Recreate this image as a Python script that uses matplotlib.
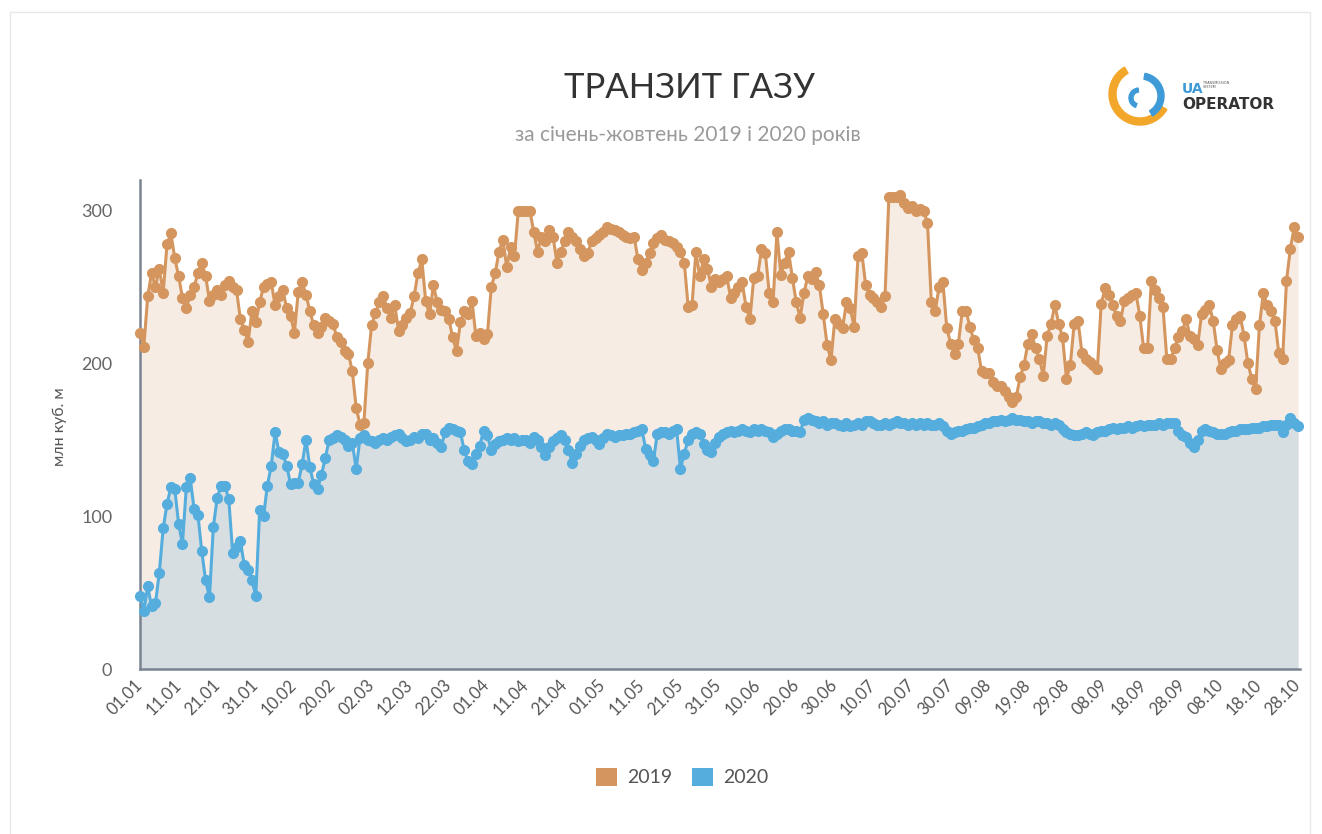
import matplotlib
matplotlib.use("Agg")
import matplotlib.pyplot as plt
import numpy as np
from matplotlib.patches import Wedge, Rectangle, Patch

plt.rcParams["font.family"] = ["Lato", "DejaVu Sans"]

# tick labels every 10 days, 01.01 .. 28.10
tick_labels = [
    "01.01", "11.01", "21.01", "31.01", "10.02", "20.02", "02.03", "12.03",
    "22.03", "01.04", "11.04", "21.04", "01.05", "11.05", "21.05", "31.05",
    "10.06", "20.06", "30.06", "10.07", "20.07", "30.07", "09.08", "19.08",
    "29.08", "08.09", "18.09", "28.09", "08.10", "18.10", "28.10",
]

# daily transit, mln m3
y2019 = [
    220, 211, 244, 259, 250, 262, 246, 278, 285, 269,
    257, 243, 236, 245, 250, 259, 266, 257, 241, 245,
    248, 245, 251, 254, 250, 248, 229, 222, 214, 234,
    227, 240, 250, 252, 253, 238, 244, 248, 236, 231,
    220, 247, 253, 245, 234, 225, 220, 224, 230, 228,
    226, 217, 214, 208, 206, 195, 171, 160, 161, 200,
    225, 233, 240, 244, 236, 230, 238, 221, 225, 230,
    233, 244, 259, 268, 241, 232, 251, 240, 235, 234,
    229, 217, 208, 227, 234, 232, 241, 218, 220, 216,
    219, 250, 259, 273, 281, 263, 276, 270, 300, 300,
    300, 300, 286, 273, 283, 280, 287, 283, 266, 273,
    280, 286, 283, 280, 275, 270, 272, 280, 282, 284,
    286, 289, 288, 287, 286, 284, 283, 282, 283, 268,
    261, 266, 272, 279, 282, 284, 281, 280, 279, 276,
    273, 266, 237, 238, 273, 257, 268, 262, 250, 255,
    253, 255, 257, 243, 246, 250, 253, 237, 229, 256,
    257, 275, 272, 246, 240, 286, 258, 266, 273, 256,
    240, 230, 246, 257, 255, 260, 251, 232, 212, 202,
    229, 226, 223, 240, 236, 224, 270, 272, 251, 245,
    243, 240, 237, 244, 309, 309, 309, 310, 305, 302,
    303, 300, 301, 300, 292, 240, 234, 250, 253, 223,
    213, 206, 213, 234, 234, 224, 215, 210, 195, 194,
    194, 188, 185, 185, 182, 178, 175, 178, 191, 199,
    213, 219, 210, 203, 192, 218, 226, 238, 226, 217,
    190, 199, 226, 228, 207, 203, 201, 199, 196, 239,
    249, 245, 238, 231, 228, 241, 243, 245, 246, 231,
    210, 210, 254, 248, 243, 237, 203, 203, 210, 217,
    221, 229, 218, 216, 212, 232, 235, 238, 228, 209,
    196, 200, 202, 225, 229, 231, 218, 200, 190, 183,
    225, 246, 238, 234, 228, 207, 203, 254, 275, 289, 283,
]

y2020 = [
    48, 38, 54, 41, 43, 63, 92, 108, 119, 118,
    95, 82, 119, 125, 105, 101, 77, 58, 47, 93,
    112, 120, 120, 111, 76, 80, 84, 68, 65, 58,
    48, 104, 100, 120, 133, 155, 142, 141, 133, 121,
    122, 122, 134, 150, 132, 121, 118, 127, 138, 150,
    151, 153, 152, 150, 146, 148, 131, 151, 153, 150,
    149, 148, 150, 151, 150, 152, 153, 154, 151, 149,
    150, 152, 151, 154, 154, 150, 151, 148, 145, 155,
    158, 157, 156, 155, 143, 136, 134, 141, 146, 156,
    153, 143, 147, 149, 150, 151, 150, 151, 149, 150,
    150, 148, 152, 150, 145, 140, 145, 149, 151, 153,
    150, 143, 135, 141, 146, 150, 151, 152, 150, 147,
    151, 154, 153, 152, 153, 153, 154, 154, 155, 156,
    157, 144, 140, 136, 154, 155, 155, 154, 156, 157,
    131, 141, 150, 154, 155, 154, 147, 143, 142, 148,
    152, 154, 155, 156, 155, 156, 157, 156, 155, 157,
    156, 157, 156, 155, 152, 154, 156, 157, 157, 156,
    156, 155, 163, 164, 163, 162, 161, 162, 160, 161,
    161, 160, 159, 161, 159, 160, 161, 160, 162, 162,
    161, 160, 160, 161, 160, 161, 162, 161, 161, 160,
    161, 160, 161, 160, 161, 160, 160, 161, 159, 156,
    154, 155, 156, 156, 157, 158, 158, 159, 160, 161,
    161, 162, 162, 163, 162, 163, 164, 163, 163, 162,
    162, 161, 162, 162, 161, 161, 160, 161, 160, 157,
    155, 154, 153, 153, 154, 155, 154, 153, 155, 156,
    156, 157, 158, 157, 158, 158, 159, 158, 159, 160,
    159, 160, 160, 160, 161, 160, 161, 161, 161, 156,
    153, 152, 148, 145, 150, 156, 157, 156, 155, 154,
    154, 154, 155, 156, 156, 157, 157, 157, 158, 158,
    158, 159, 159, 160, 160, 160, 155, 160, 164, 161, 159,
]

ORANGE = "#D4965E"
BLUE = "#55ADDE"
W, H = 1322, 834

days = np.arange(len(y2019))

fig = plt.figure(figsize=(W / 100, H / 100), dpi=100)
fig.patches.append(Rectangle((10 / W, -0.05), 1300 / W, 1.05 - 12 / H,
                             transform=fig.transFigure, fill=False,
                             edgecolor="#e8e8e8", lw=1))

ax = fig.add_axes([140 / W, 1 - 669 / H, 1160 / W, 489 / H])
ax.fill_between(days, y2019, color="#F6ECE3", lw=0)
ax.fill_between(days, y2020, color="#D6DEE1", lw=0)
ax.plot(days, y2020, color=BLUE, lw=2.2, marker="o", ms=7, clip_on=False, zorder=3)
ax.plot(days, y2019, color=ORANGE, lw=2.2, marker="o", ms=7, clip_on=False, zorder=4)

ax.set_xlim(0, 300.5)
ax.set_ylim(0, 320)
ax.set_yticks([0, 100, 200, 300])
ax.set_xticks(days[::10])
ax.set_xticklabels(tick_labels, rotation=45, ha="right", va="center",
                   rotation_mode="anchor", fontsize=12, color="#555555")
ax.tick_params(axis="x", length=0, pad=10)
ax.tick_params(axis="y", length=0, pad=20, labelsize=13, labelcolor="#666666")
for side in ("top", "right"):
    ax.spines[side].set_visible(False)
for side in ("left", "bottom"):
    ax.spines[side].set_color("#7a8490")
    ax.spines[side].set_linewidth(1.8)

fig.text(60 / W, 1 - 427 / H, "млн куб. м", rotation=90, ha="center", va="center",
         fontsize=11.5, color="#555555")

fig.text(689 / W, 1 - 88 / H, "ТРАНЗИТ ГАЗУ", ha="center", va="center",
         fontsize=25, color="#333333")
fig.text(688 / W, 1 - 135 / H, "за січень-жовтень 2019 і 2020 років", ha="center",
         va="center", fontsize=15, color="#9a9a9a")

handles = [Patch(facecolor=ORANGE, label="2019"), Patch(facecolor=BLUE, label="2020")]
leg = fig.legend(handles=handles, loc="center", bbox_to_anchor=(682 / W, 1 - 777 / H),
                 ncol=2, frameon=False, fontsize=14, handlelength=1.1, handleheight=1.1,
                 handletextpad=0.5, columnspacing=1.0)
for t in leg.get_texts():
    t.set_color("#555555")

# logo
lg = fig.add_axes([1100 / W, 1 - 140 / H, 200 / W, 80 / H])
lg.set_xlim(1100, 1300)
lg.set_ylim(140, 60)
lg.axis("off")
lg.add_patch(Wedge((1140, 94), 31, 30, 240, width=7, color="#F2A72A"))
lg.add_patch(Wedge((1141, 96), 23, -80, 60, width=6, color="#3F9BD8"))
lg.add_patch(Wedge((1139, 98), 10, 110, 265, width=4, color="#3F9BD8"))
lg.text(1182, 89, "UA", fontsize=10, color="#3F9BD8", fontweight="bold",
        va="center", ha="left", family="DejaVu Sans")
lg.text(1203, 85, "TRANSMISSION\nSYSTEM", fontsize=2.4, color="#555555",
        va="center", ha="left", family="DejaVu Sans", linespacing=1.1)
lg.text(1182, 104, "OPERATOR", fontsize=11, color="#333333", fontweight="bold",
        va="center", ha="left", family="DejaVu Sans")

fig.savefig("out.png", dpi=100, facecolor="white")
